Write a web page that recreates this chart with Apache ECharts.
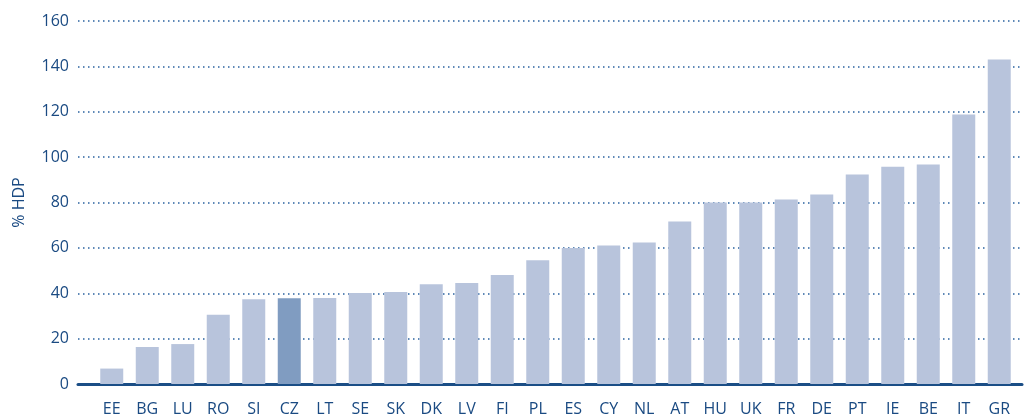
<!DOCTYPE html>
<html><head><meta charset="utf-8">
<script src="https://cdn.jsdelivr.net/npm/echarts@6/dist/echarts.min.js"></script>
<style>html,body{margin:0;padding:0;background:#fff}#c{width:1025px;height:418px}</style>
</head><body><div id="c"></div>
<script>
const categories = ['EE','BG','LU','RO','SI','CZ','LT','SE','SK','DK','LV','FI','PL','ES','CY','NL','AT','HU','UK','FR','DE','PT','IE','BE','IT','GR'];
const values = [6.8,16.3,17.6,30.5,37.4,37.8,37.9,40.1,40.5,44.0,44.5,48.0,54.6,59.9,61.0,62.4,71.6,80.0,80.0,81.3,83.5,92.3,95.8,96.7,118.8,143.0];
const highlight = 'CZ';
const yTicks = [0,20,40,60,80,100,120,140,160];

const textColor = '#1a4a82';
const chart = echarts.init(document.getElementById('c'));
chart.setOption({
  animation:false,
  grid:[
    {left:78, right:3, top:21, bottom:34, containLabel:false},
    {left:94, right:8, top:21, bottom:34, containLabel:false}
  ],
  xAxis:[
    {gridIndex:0, type:'value', min:0, max:1, axisLine:{show:true, lineStyle:{color:'#1b4e86', width:3}},
     axisTick:{show:false}, axisLabel:{show:false}, splitLine:{show:false}},
    {gridIndex:1, type:'category', data:categories, axisLine:{show:false}, axisTick:{show:false},
     axisLabel:{color:textColor, fontSize:16, fontFamily:'Open Sans', margin:17, interval:0}}
  ],
  yAxis:[
    {gridIndex:0, type:'value', min:yTicks[0], max:yTicks[yTicks.length-1], interval:20,
     name:'% HDP', nameLocation:'middle', nameGap:51, nameRotate:90,
     nameTextStyle:{color:textColor, fontSize:16, fontFamily:'Open Sans'},
     axisLine:{show:false}, axisTick:{show:false},
     axisLabel:{color:textColor, fontSize:16, fontFamily:'Open Sans', margin:9},
     splitLine:{show:true, lineStyle:{color:'#2a62a0', type:[1.5,3.5], width:1.5}}},
    {gridIndex:1, type:'value', min:yTicks[0], max:yTicks[yTicks.length-1], interval:20, show:false}
  ],
  series:[{
    type:'bar', xAxisIndex:1, yAxisIndex:1, barWidth:23,
    data: values.map((v,i)=>({value:v, itemStyle:{color: categories[i]===highlight ? '#809cc1' : '#b8c4dc'}}))
  }]
});
</script></body></html>
